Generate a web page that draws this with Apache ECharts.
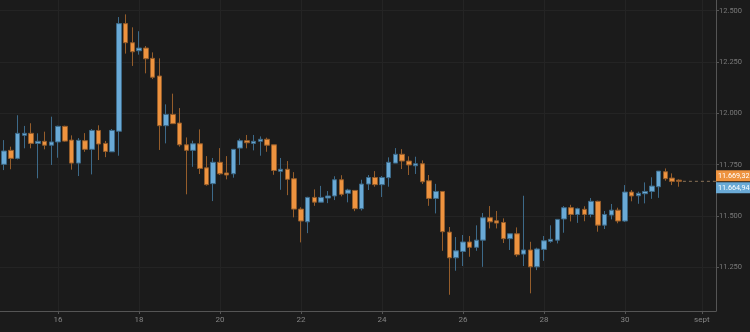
<!DOCTYPE html>
<html><head><meta charset="utf-8">
<script src="https://cdn.jsdelivr.net/npm/echarts@6/dist/echarts.min.js"></script>
<style>html,body{margin:0;padding:0;background:#1b1b1b}#c{width:750px;height:332px}</style>
</head><body><div id="c"></div>
<script>
const opens = [11752,11820,11781,11893,11903,11854,11864,11845,11861,11937,
11870,11758,11867,11825,11917,11854,11813,11913,12437,12344,
12305,12318,12268,12182,11940,11995,11953,11847,11820,11852,
11735,11658,11762,11710,11706,11831,11867,11854,11864,11874,
11847,11718,11728,11682,11534,11472,11591,11568,11588,11598,
11677,11611,11625,11536,11656,11688,11653,11687,11758,11801,
11768,11745,11755,11672,11586,11620,11422,11297,11328,11374,
11348,11383,11492,11477,11469,11390,11414,11315,11335,11253,
11338,11377,11383,11486,11541,11508,11533,11508,11572,11456,
11505,11529,11476,11617,11599,11609,11620,11643,11716,11685,
11675];
const closes = [11817,11781,11903,11903,11854,11864,11845,11861,11937,11865,
11758,11869,11825,11917,11851,11815,11917,12437,12344,12300,
12318,12266,12176,11940,11995,11950,11847,11820,11852,11732,
11653,11762,11706,11700,11825,11867,11857,11864,11874,11845,
11722,11728,11679,11534,11476,11591,11568,11591,11598,11677,
11606,11627,11536,11656,11688,11653,11688,11762,11801,11768,
11749,11755,11667,11586,11620,11424,11297,11331,11374,11348,
11383,11492,11472,11466,11390,11414,11312,11335,11253,11340,
11380,11387,11484,11541,11508,11536,11508,11572,11456,11508,
11529,11476,11617,11598,11611,11620,11646,11719,11682,11669,
11669.32];
const lows = [11724,11728,11776,11830,11830,11684,11825,11749,11784,11862,
11726,11695,11813,11703,11773,11787,11813,11794,12291,12231,
12286,12195,12167,11822,11854,11950,11838,11606,11740,11705,
11648,11573,11700,11679,11687,11749,11830,11820,11794,11813,
11701,11628,11602,11494,11372,11417,11550,11568,11563,11578,
11596,11567,11524,11527,11627,11643,11593,11643,11758,11729,
11700,11705,11656,11550,11513,11331,11117,11234,11257,11302,
11331,11253,11440,11440,11369,11335,11302,11257,11124,11237,
11282,11370,11367,11419,11474,11467,11475,11494,11424,11437,
11484,11465,11471,11572,11560,11562,11584,11589,11672,11651,
11643];
const highs = [11870,11838,11991,11939,11952,11903,11911,11984,11940,11940,
11893,11880,11904,11924,11942,11866,11924,12469,12482,12419,
12400,12328,12297,12268,12044,12096,12026,11883,11867,11922,
11792,11783,11831,11792,11825,11877,11895,11895,11888,11882,
11847,11783,11768,11714,11543,11594,11630,11647,11622,11694,
11699,11633,11627,11677,11700,11719,11695,11786,11831,11826,
11791,11789,11771,11700,11657,11620,11447,11398,11408,11403,
11455,11515,11549,11525,11489,11414,11445,11599,11375,11346,
11403,11455,11484,11549,11555,11541,11548,11588,11575,11525,
11559,11541,11651,11627,11619,11664,11689,11719,11732,11708,
11679];
const tickPositions = [8,20,32,44,56,68,80,92,103.4];
const tickLabels = ['16','18','20','22','24','26','28','30','sept'];
const yTicks = [11250,11500,11750,12000,12250,12500];
const lastPrice = 11669.32;
const bidPrice = 11664.94;

const xMin = -0.6, xMax = 105.5;
const yMin = 11038, yMax = 12552;

function fmtInt(v){ return String(Math.round(v)).replace(/\B(?=(\d{3})+(?!\d))/g,'.'); }
function fmtPrice(v){ const p = (+v).toFixed(2).split('.'); return fmtInt(+p[0]) + ',' + p[1]; }

const candleData = opens.map((o,i)=>[i,o,closes[i],lows[i],highs[i]]);

function priceAxis(val, bg, va){
  return {
    type:'value', position:'right', min:yMin, max:yMax, scale:true,
    axisLine:{show:false,onZero:false}, axisTick:{show:false}, splitLine:{show:false},
    axisLabel:{customValues:[val],color:'#fff',fontSize:7.2,lineHeight:9,margin:0,
      backgroundColor:bg,padding:[1,1,1,2],verticalAlign:va,
      formatter:function(){return fmtPrice(val);}}
  };
}

const chart = echarts.init(document.getElementById('c'), null, {renderer:'canvas'});
chart.setOption({
  backgroundColor:'#1b1b1b',
  animation:false,
  textStyle:{fontFamily:'Roboto'},
  grid:{left:0,right:34,top:0,bottom:21,containLabel:false,outerBoundsMode:'none'},
  xAxis:{
    type:'value', min:xMin, max:xMax,
    axisLine:{show:true,onZero:false,lineStyle:{color:'#555',width:1}},
    axisTick:{show:true,length:3,customValues:tickPositions,lineStyle:{color:'#555'}},
    axisLabel:{customValues:tickPositions,color:'#858585',fontSize:8,margin:5,
      formatter:function(v){ let k=0,b=1e9; tickPositions.forEach((t,j)=>{const d=Math.abs(t-v); if(d<b){b=d;k=j;}}); return tickLabels[k]; }},
    splitLine:{show:true,lineStyle:{color:'#242424',width:1}}
  },
  yAxis:[{
    type:'value', position:'right', min:yMin, max:yMax, scale:true,
    axisLine:{show:true,onZero:false,lineStyle:{color:'#555',width:1}},
    axisTick:{show:true,length:3,customValues:yTicks,lineStyle:{color:'#555'}},
    axisLabel:{customValues:yTicks,color:'#7a7a7a',fontSize:7.5,margin:3,formatter:function(v){return fmtInt(v);}},
    splitLine:{show:true,lineStyle:{color:'#242424',width:1}}
  },
  priceAxis(lastPrice,'#ee933f','bottom'),
  priceAxis(bidPrice,'#6aaad6','top')
  ],
  series:[
    {
      type:'candlestick',
      data:candleData,
      encode:{x:0,y:[1,2,3,4]},
      barWidth:5,
      itemStyle:{color:'#6aaad6',color0:'#ee933f',borderColor:'#3d6a89',borderColor0:'#955d2b',borderWidth:1}
    },
    {
      type:'line',
      data:[[opens.length-0.4,lastPrice],[xMax,lastPrice]],
      symbol:'none', silent:true,
      lineStyle:{color:'#8a7258',width:1,type:[3,3]}
    }
  ]
});
</script>
</body></html>
